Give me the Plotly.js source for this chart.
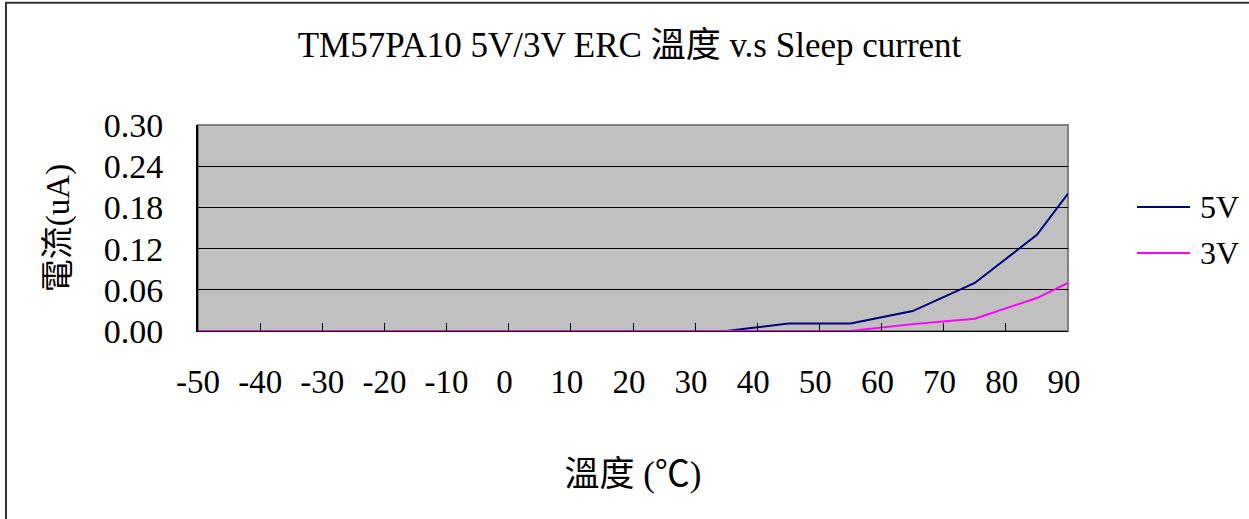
<!DOCTYPE html>
<html>
<head>
<meta charset="utf-8">
<script src="https://cdn.plot.ly/plotly-3.0.1.min.js"></script>
<style>
html,body{margin:0;padding:0;background:#fff;}
#chart{width:1249px;height:519px;}
</style>
</head>
<body>
<div id="chart"></div>
<script>
// Data
var temps = [-50, -35, -25, -15, -5, 5, 15, 25, 35, 45, 55, 65, 75, 85, 90];
var current5V = [0, 0, 0, 0, 0, 0, 0, 0, 0, 0.011, 0.011, 0.029, 0.070, 0.140, 0.200];
var current3V = [0, 0, 0, 0, 0, 0, 0, 0, 0, 0, 0, 0.010, 0.018, 0.048, 0.070];
var seriesNames = ['5V', '3V'];
var seriesColors = ['#000080', '#FF00FF'];
var xTickVals = [-50, -40, -30, -20, -10, 0, 10, 20, 30, 40, 50, 60, 70, 80, 90];
var xTickText = xTickVals.map(function (v) { return v < 0 ? String(v) : String(v) + '\u00a0'; });
var yTickVals = [0, 0.06, 0.12, 0.18, 0.24, 0.30];
var yTickText = ['0.00', '0.06', '0.12', '0.18', '0.24', '0.30'];

var FONT = 'Liberation Serif, "Noto Sans CJK TC", serif';

var traces = [
  {x: temps, y: current5V, name: seriesNames[0], type: 'scatter', mode: 'lines',
   line: {color: seriesColors[0], width: 2}, cliponaxis: false},
  {x: temps, y: current3V, name: seriesNames[1], type: 'scatter', mode: 'lines',
   line: {color: seriesColors[1], width: 2}, cliponaxis: false}
];

// manual legend (Excel style, long line samples)
var shapes = [
  // outer chart border (only top/left visible in the picture)
  {type: 'rect', xref: 'paper', yref: 'paper', x0: -0.2207, x1: 1.3, y0: -1.2, y1: 1.594,
   line: {color: '#333333', width: 2}, fillcolor: 'rgba(0,0,0,0)', layer: 'below'},
  // plot area border (gray)
  {type: 'rect', xref: 'paper', yref: 'paper', x0: 0, x1: 1, y0: 0, y1: 1,
   line: {color: '#808080', width: 2}, fillcolor: 'rgba(0,0,0,0)', layer: 'below'}
];
var annotations = [];
for (var i = 0; i < seriesNames.length; i++) {
  var py = 1 - ((i === 0 ? 207 : 253) - 125) / 206;
  shapes.push({type: 'line', xref: 'paper', yref: 'paper',
    x0: (1137 - 198) / 870, x1: (1190 - 198) / 870, y0: py, y1: py,
    line: {color: seriesColors[i], width: 2}});
  annotations.push({xref: 'paper', yref: 'paper', x: (1198 - 198) / 870, y: py,
    xanchor: 'left', yanchor: 'middle', showarrow: false, text: seriesNames[i],
    font: {family: FONT, size: 32, color: '#000'}});
}

var layout = {
  width: 1249, height: 519,
  margin: {l: 198, r: 181, t: 125, b: 188, pad: 0},
  paper_bgcolor: '#ffffff',
  plot_bgcolor: '#C0C0C0',
  font: {family: FONT, size: 32, color: '#000'},
  showlegend: false,
  title: {text: 'TM57PA10 5V/3V ERC 溫度 v.s Sleep current',
          font: {family: FONT, size: 35, color: '#000'},
          xref: 'container', yref: 'container', x: 0.504, y: 1 - 45 / 519,
          xanchor: 'center', yanchor: 'middle'},
  xaxis: {
    range: [-50, 90], autorange: false,
    tickmode: 'array', tickvals: xTickVals, ticktext: xTickText,
    ticks: 'inside', ticklen: 8, tickcolor: '#000', tickwidth: 1,
    showgrid: false, zeroline: false,
    showline: true, linecolor: '#000', linewidth: 1,
    tickfont: {family: FONT, size: 33, color: '#000'},
    ticklabelstandoff: 21,
    title: {text: '溫度 (℃)', font: {family: FONT, size: 35, color: '#000'}, standoff: 62},
    automargin: false
  },
  yaxis: {
    range: [0, 0.30], autorange: false,
    tickmode: 'array', tickvals: yTickVals, ticktext: yTickText,
    ticks: 'inside', ticklen: 11, tickcolor: '#000', tickwidth: 1,
    showgrid: true, gridcolor: '#000', gridwidth: 1,
    zeroline: false,
    showline: true, linecolor: '#000', linewidth: 2,
    tickfont: {family: FONT, size: 34, color: '#000'},
    ticklabelstandoff: 26,
    title: {text: '電流(uA)', font: {family: FONT, size: 33, color: '#000'}, standoff: 24},
    automargin: false
  },
  shapes: shapes,
  annotations: annotations
};

Plotly.newPlot('chart', traces, layout, {displayModeBar: false, staticPlot: true});
</script>
</body>
</html>
